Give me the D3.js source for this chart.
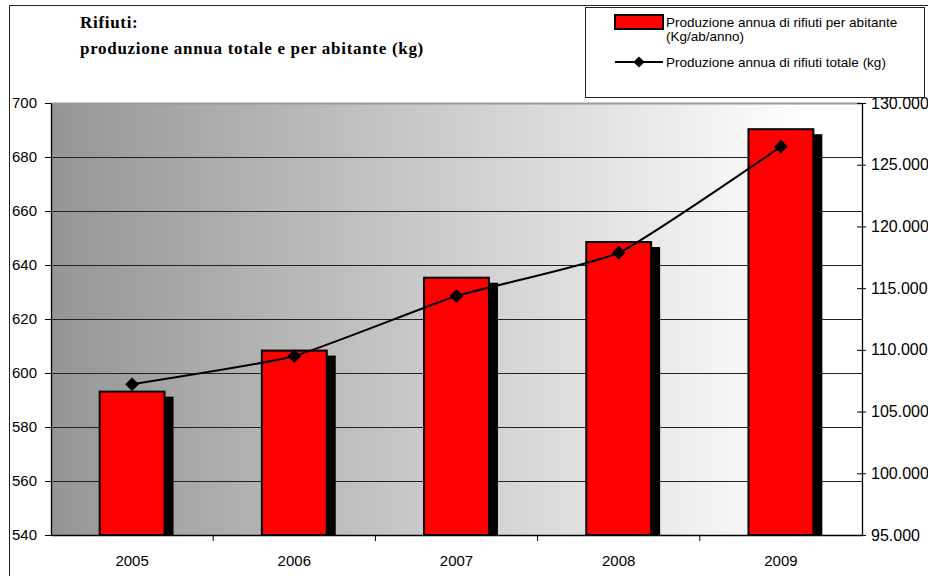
<!DOCTYPE html>
<html><head><meta charset="utf-8">
<script src="https://cdn.jsdelivr.net/npm/d3@7"></script>
<style>html,body{margin:0;padding:0;background:#fff;}svg{display:block;}</style>
</head><body>
<script>
const years = ["2005","2006","2007","2008","2009"];
const perCapita = [593.1, 608.3, 635.3, 648.5, 690.3];
const totals = [107210, 109500, 114360, 117870, 126460];
const leftTicks = [540,560,580,600,620,640,660,680,700];
const rightTicks = [95000,100000,105000,110000,115000,120000,125000,130000];
const titleLines = ["Rifiuti:", "produzione annua totale e per abitante (kg)"];
const legendBar = ["Produzione annua di rifiuti per abitante", "(Kg/ab/anno)"];
const legendLine = "Produzione annua di rifiuti totale (kg)";

const W = 928, H = 576;
const L = 51, R = 862, T = 103, B = 535;
const svg = d3.select("body").append("svg").attr("width", W).attr("height", H);

const defs = svg.append("defs");
const grad = defs.append("linearGradient").attr("id","bg").attr("gradientUnits","userSpaceOnUse")
  .attr("x1", L).attr("x2", R).attr("y1",0).attr("y2",0);
grad.append("stop").attr("offset","0%").attr("stop-color","#959595");
grad.append("stop").attr("offset","93%").attr("stop-color","#ffffff");
grad.append("stop").attr("offset","100%").attr("stop-color","#ffffff");

// outer border
svg.append("path").attr("d", `M9.5,${H+2}V5.5H${W+2}`).attr("fill","none").attr("stroke","#222").attr("stroke-width",1);

const x = d3.scaleBand().domain(years).range([L, R]).paddingInner(0).paddingOuter(0);
const yL = d3.scaleLinear().domain([540,700]).range([B, T]);
const yR = d3.scaleLinear().domain([95000,130000]).range([B, T]);
const loc = d3.formatLocale({decimal:",", thousands:".", grouping:[3], currency:["",""]});

// plot background
svg.append("rect").attr("x", L).attr("y", T).attr("width", R-L).attr("height", B-T).attr("fill","url(#bg)");

// gridlines
svg.append("g").selectAll("line").data(leftTicks.filter(d=>d>540 && d<700)).join("line")
  .attr("x1", L).attr("x2", R).attr("y1", d=>yL(d)+0.5).attr("y2", d=>yL(d)+0.5)
  .attr("stroke","#222").attr("stroke-width",1);
svg.append("line").attr("x1", L).attr("x2", R).attr("y1", T+0.5).attr("y2", T+0.5)
  .attr("stroke","#9a9a9a").attr("stroke-width",2);

// bars
const bw = x.step()*0.4;
const bx = d => x(d) + x.step()/2 - bw/2;
const bars = svg.append("g");
bars.selectAll("rect.sh").data(years).join("rect").attr("class","sh")
  .attr("x", d=>bx(d)+9).attr("y", (d,i)=>yL(perCapita[i])+5)
  .attr("width", bw).attr("height", (d,i)=>B - yL(perCapita[i]) - 5)
  .attr("fill","#000");
bars.selectAll("rect.b").data(years).join("rect").attr("class","b")
  .attr("x", d=>bx(d)).attr("y", (d,i)=>yL(perCapita[i]))
  .attr("width", bw).attr("height", (d,i)=>B - yL(perCapita[i]))
  .attr("fill","#ff0000").attr("stroke","#000").attr("stroke-width",2);

// line
const pts = years.map((d,i)=>[x(d)+x.step()/2, yR(totals[i])]);
svg.append("path").datum(pts).attr("d", d3.line().curve(d3.curveCardinal.tension(0.55)))
  .attr("fill","none").attr("stroke","#000").attr("stroke-width",2);
svg.append("g").selectAll("path").data(pts).join("path")
  .attr("d", d3.symbol().type(d3.symbolDiamond2).size(120))
  .attr("transform", d=>`translate(${d[0]},${d[1]})`).attr("fill","#000");

// axes
const axL = svg.append("g").attr("transform",`translate(${L},0)`)
  .call(d3.axisLeft(yL).tickValues(leftTicks).tickSize(6).tickSizeOuter(0).tickFormat(d3.format("d")));
const axR = svg.append("g").attr("transform",`translate(${R},0)`)
  .call(d3.axisRight(yR).tickValues(rightTicks).tickSize(4).tickSizeOuter(0).tickFormat(d=>loc.format(",")(d)));
axR.selectAll(".tick line").attr("x1",-5).attr("x2",4);
const axB = svg.append("g").attr("transform",`translate(0,${B})`)
  .call(d3.axisBottom(x).tickSize(0).tickSizeOuter(0));
[axL, axR, axB].forEach(a=>{
  a.select(".domain").attr("stroke","#000").attr("stroke-width",1.3);
  a.selectAll(".tick line").attr("stroke","#000");
  a.selectAll("text").attr("font-family","'Liberation Sans', Arial, sans-serif").attr("font-size",15).attr("fill","#000");
});
axL.selectAll("text").attr("x",-14);
axR.selectAll("text").attr("x",9).attr("font-size",16);
axB.selectAll("text").attr("dy","0").attr("y",31);
// bottom category boundary ticks
svg.append("g").selectAll("line").data(years.slice(1)).join("line")
  .attr("x1", d=>x(d)).attr("x2", d=>x(d)).attr("y1", B).attr("y2", B+6).attr("stroke","#000");

// title
const tt = svg.append("text").attr("font-family","'Liberation Serif', 'Times New Roman', serif")
  .attr("font-weight","bold").attr("font-size",17).attr("letter-spacing",0.7).attr("fill","#000");
titleLines.forEach((t,i)=>tt.append("tspan").attr("x",80).attr("y", 28 + i*26).text(t));

// legend
const lg = svg.append("g");
lg.append("rect").attr("x",585.5).attr("y",7.5).attr("width",339).attr("height",90)
  .attr("fill","#fff").attr("stroke","#222").attr("stroke-width",1);
lg.append("rect").attr("x",615).attr("y",15).attr("width",48).attr("height",14)
  .attr("fill","#ff0000").attr("stroke","#000").attr("stroke-width",2);
const lt = lg.append("text").attr("font-family","'Liberation Sans', Arial, sans-serif").attr("font-size",13.5).attr("fill","#000");
legendBar.forEach((t,i)=>lt.append("tspan").attr("x",666).attr("y",27 + i*14).text(t));
lg.append("line").attr("x1",615).attr("x2",663).attr("y1",62).attr("y2",62).attr("stroke","#000").attr("stroke-width",2);
lg.append("path").attr("d", d3.symbol().type(d3.symbolDiamond2).size(80)).attr("transform","translate(639,62)").attr("fill","#000");
lg.append("text").attr("x",666).attr("y",67).attr("font-family","'Liberation Sans', Arial, sans-serif")
  .attr("font-size",13.5).attr("fill","#000").text(legendLine);
</script>
</body></html>
